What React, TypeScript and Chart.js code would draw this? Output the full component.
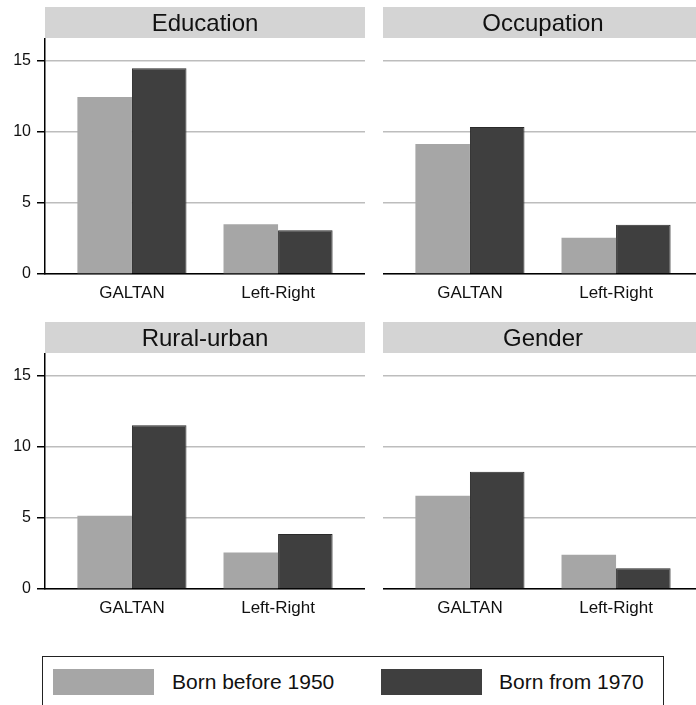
import React, { useEffect, useRef } from 'react';
import { Chart, registerables } from 'chart.js';

Chart.register(...registerables);

// ---------- data ----------
const panelTitles = ['Education', 'Occupation', 'Rural-urban', 'Gender'];
const categories = ['GALTAN', 'Left-Right'];
const seriesNames = ['Born before 1950', 'Born from 1970'];

const educationBefore1950 = [12.42, 3.5];
const educationFrom1970 = [14.44, 3.08];
const occupationBefore1950 = [9.13, 2.54];
const occupationFrom1970 = [10.32, 3.46];
const ruralUrbanBefore1950 = [5.15, 2.57];
const ruralUrbanFrom1970 = [11.5, 3.86];
const genderBefore1950 = [6.55, 2.41];
const genderFrom1970 = [8.23, 1.45];

const yTickValues = [0, 5, 10, 15];
const yMax = 16.5;

// ---------- styles ----------
const FONT = '"Liberation Sans", Arial, Helvetica, sans-serif';
const LIGHT = '#a6a6a6';
const DARK = '#3f3f3f';
const STRIP = '#d4d4d4';
const GRID = '#bdbdbd';
const TEXT = '#111111';

const stripHeader = {
  id: 'stripHeader',
  beforeDraw(chart: any, _args: any, opts: any) {
    const { ctx, chartArea } = chart;
    ctx.save();
    ctx.fillStyle = STRIP;
    ctx.fillRect(chartArea.left, 7, chartArea.right - chartArea.left, 31);
    ctx.fillStyle = TEXT;
    ctx.font = `24px ${FONT}`;
    ctx.textAlign = 'center';
    ctx.textBaseline = 'alphabetic';
    ctx.fillText(opts.text, (chartArea.left + chartArea.right) / 2, 31);
    ctx.restore();
  },
};

type PanelProps = {
  title: string;
  before: number[];
  from: number[];
  showY: boolean;
  left: number;
  top: number;
  width: number;
  height: number;
};

function Panel({ title, before, from, showY, left, top, width, height }: PanelProps) {
  const ref = useRef<HTMLCanvasElement | null>(null);

  useEffect(() => {
    if (!ref.current) return;
    const chart = new Chart(ref.current, {
      type: 'bar',
      data: {
        datasets: [
          {
            label: seriesNames[0],
            data: categories.map((_, i) => ({ x: i, y: before[i] })),
            backgroundColor: LIGHT,
            borderColor: '#9d9d9d',
            borderWidth: 0,
            categoryPercentage: 0.7466,
            barPercentage: 1,
          },
          {
            label: seriesNames[1],
            data: categories.map((_, i) => ({ x: i, y: from[i] })),
            backgroundColor: DARK,
            borderColor: '#2a2a2a',
            borderWidth: 1,
            categoryPercentage: 0.7466,
            barPercentage: 1,
          },
        ],
      } as any,
      plugins: [stripHeader],
      options: {
        animation: false,
        responsive: false,
        maintainAspectRatio: false,
        layout: { padding: { top: 39, left: 0, right: 0, bottom: 0 } },
        plugins: {
          legend: { display: false },
          tooltip: { enabled: false },
          stripHeader: { text: title },
        } as any,
        scales: {
          x: {
            type: 'linear',
            min: -0.595,
            max: 1.595,
            offset: false,
            afterBuildTicks: (s: any) => {
              s.ticks = categories.map((_, i) => ({ value: i }));
            },
            afterFit: (s: any) => {
              s.height = 36;
            },
            grid: { display: false, drawTicks: false, offset: false },
            border: { display: true, color: '#000', width: 1.5 },
            ticks: {
              callback: (v: any) => categories[Math.round(Number(v))] ?? '',
              font: { family: FONT, size: 17 },
              color: TEXT,
              padding: 9,
              maxRotation: 0,
              autoSkip: false,
            },
          },
          y: {
            type: 'linear',
            min: 0,
            max: yMax,
            afterBuildTicks: (s: any) => {
              s.ticks = yTickValues.map((v) => ({ value: v }));
            },
            afterFit: (s: any) => {
              s.width = showY ? 45 : 0;
            },
            grid: {
              color: GRID,
              lineWidth: 1.5,
              tickColor: '#000',
              tickLength: 8,
              drawTicks: showY,
            },
            border: { display: showY, color: '#000', width: 1.5 },
            ticks: {
              display: showY,
              font: { family: FONT, size: 16 },
              color: TEXT,
              padding: 6,
            },
          },
        } as any,
      },
    });
    return () => chart.destroy();
  }, [title, before, from, showY]);

  return (
    <canvas
      ref={ref}
      width={width}
      height={height}
      style={{ position: 'absolute', left, top, width, height }}
    />
  );
}

const swatch = (left: number, color: string): React.CSSProperties => ({
  position: 'absolute',
  left,
  top: 669,
  width: 101,
  height: 26,
  background: color,
});

const legendText = (left: number): React.CSSProperties => ({
  position: 'absolute',
  left,
  top: 669,
  height: 26,
  lineHeight: '26px',
  fontFamily: FONT,
  fontSize: 21,
  color: TEXT,
  whiteSpace: 'nowrap',
});

export default function App() {
  return (
    <div
      style={{
        position: 'fixed',
        left: 0,
        top: 0,
        width: 696,
        height: 705,
        overflow: 'hidden',
        background: '#fff',
      }}
    >
      <Panel title={panelTitles[0]} before={educationBefore1950} from={educationFrom1970} showY={true} left={0} top={0} width={365} height={310} />
      <Panel title={panelTitles[1]} before={occupationBefore1950} from={occupationFrom1970} showY={false} left={383} top={0} width={320} height={310} />
      <Panel title={panelTitles[2]} before={ruralUrbanBefore1950} from={ruralUrbanFrom1970} showY={true} left={0} top={315} width={365} height={310} />
      <Panel title={panelTitles[3]} before={genderBefore1950} from={genderFrom1970} showY={false} left={383} top={315} width={320} height={310} />

      <div
        style={{
          position: 'absolute',
          left: 42,
          top: 656,
          width: 620,
          height: 80,
          border: '1.3px solid #222',
        }}
      />
      <div style={swatch(53, LIGHT)} />
      <span style={legendText(172)}>{seriesNames[0]}</span>
      <div style={swatch(381, DARK)} />
      <span style={legendText(499)}>{seriesNames[1]}</span>
    </div>
  );
}
